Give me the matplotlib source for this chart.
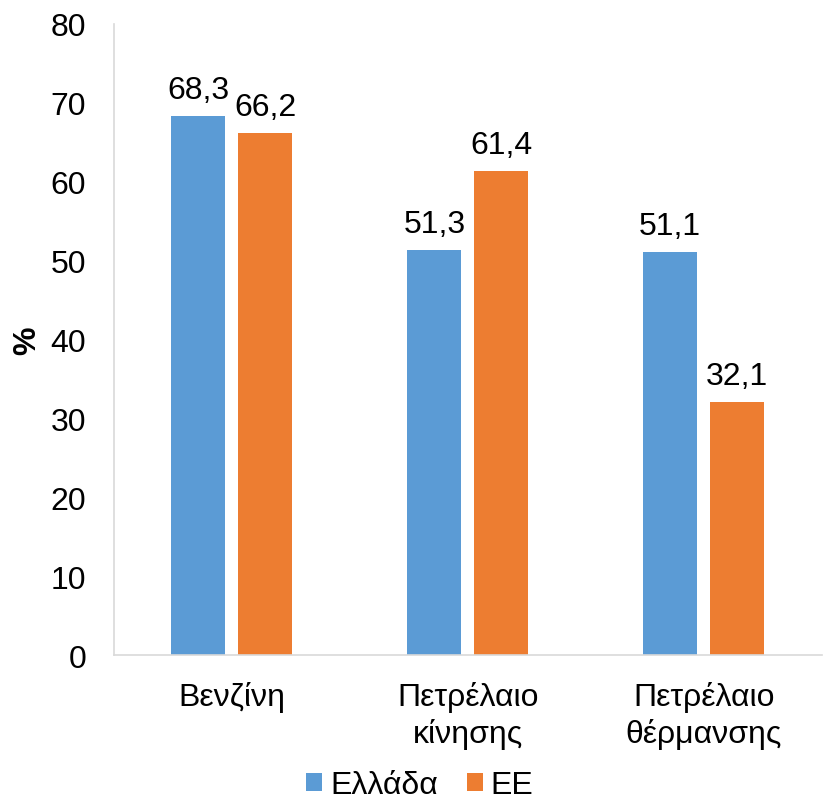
import numpy as np
import matplotlib.pyplot as plt

plt.rcParams['font.family'] = ['Liberation Sans', 'DejaVu Sans']

categories = ['Βενζίνη', 'Πετρέλαιο\nκίνησης', 'Πετρέλαιο\nθέρμανσης']
greece = [68.3, 51.3, 51.1]
eu = [66.2, 61.4, 32.1]
series_names = ['Ελλάδα', 'ΕΕ']

blue = '#5B9BD5'
orange = '#ED7D31'
fs = 23

fig = plt.figure(figsize=(8.23, 8.04), dpi=100)
ax = fig.add_axes([0.1385, 0.184, 0.86, 0.785])

x = np.arange(len(categories))
w = 0.229
off = 0.142
b1 = ax.bar(x - off, greece, w, color=blue, label=series_names[0])
b2 = ax.bar(x + off, eu, w, color=orange, label=series_names[1])

for bars, vals in ((b1, greece), (b2, eu)):
    for r, v in zip(bars, vals):
        ax.annotate(f'{v:.1f}'.replace('.', ','),
                    (r.get_x() + r.get_width() / 2, v),
                    xytext=(0, 8), textcoords='offset points',
                    ha='center', va='bottom', fontsize=fs)

ax.set_xlim(-0.5, 2.5)
ax.set_ylim(0, 80)
ax.set_yticks(range(0, 81, 10))
ax.set_xticks(x)
ax.set_xticklabels(categories)
ax.tick_params(axis='y', length=0, pad=20, labelsize=fs)
ax.tick_params(axis='x', length=0, pad=18.5, labelsize=fs)
for lbl in ax.get_xticklabels():
    lbl.set_linespacing(1.25)

for s in ('top', 'right'):
    ax.spines[s].set_visible(False)
for s in ('left', 'bottom'):
    ax.spines[s].set_color('#D9D9D9')
    ax.spines[s].set_linewidth(1.2)

ax.set_ylabel('%', fontsize=fs, fontweight='bold', labelpad=6)

fig.legend(loc='lower center', bbox_to_anchor=(0.51, -0.032), ncol=2,
           frameon=False, fontsize=fs, handlelength=0.5, handleheight=0.5,
           handletextpad=0.25, columnspacing=0.9)

fig.savefig('out.png', dpi=100)
